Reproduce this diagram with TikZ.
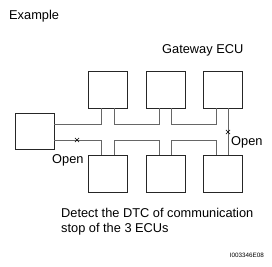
\documentclass[tikz,border=0pt]{standalone}
\usepackage{fontspec}
\setmainfont{Liberation Sans}
\usetikzlibrary{shapes.misc}
\begin{document}
\begin{tikzpicture}[x=1pt,y=-1pt,
  ecu/.style={draw=black!85,line width=0.7pt,rectangle,inner sep=0pt,minimum width=39pt,minimum height=37pt},
  bus/.style={draw=black!60,line width=0.75pt},
  brk/.style={cross out,draw=black,line width=0.6pt,minimum size=3.6pt,inner sep=0pt},
  lbl/.style={anchor=base west,inner sep=0pt,font=\fontsize{12.8}{15}\selectfont}]
\useasboundingbox (0,0) rectangle (272,266);
% boxes
\node[ecu] (tl1) at (107.5,89.5) {};
\node[ecu] (tl2) at (166,89.5) {};
\node[ecu] (tl3) at (223,89.5) {};
\node[ecu] (b1) at (107.5,173.5) {};
\node[ecu] (b2) at (166,173.5) {};
\node[ecu] (b3) at (223,173.5) {};
\node[ecu,minimum height=36pt] (L) at (34.5,131) {};
% upper bus
\draw[bus] (L.east |- 0,124) -| (101,0 |- tl1.south);
\draw[bus] (114,0 |- tl1.south) |- (159,124) -- (159,0 |- tl2.south);
\draw[bus] (171,0 |- tl2.south) |- (216,124) -- (216,0 |- tl3.south);
% lower bus
\draw[bus] (L.east |- 0,140) -| (101,0 |- b1.north);
\draw[bus] (114,0 |- b1.north) |- (159,140) -- (159,0 |- b2.north);
\draw[bus] (171,0 |- b2.north) |- (216,140) -- (216,0 |- b3.north);
% vertical link
\draw[bus] (228,0 |- tl3.south) -- (228,0 |- b3.north);
% break marks
\node[brk] (x1) at (77,140) {};
\node[brk] (x2) at (228,132) {};
% texts
\node[lbl] (ex) at (9,19.5) {Example};
\node[lbl] (gw) at (162,53.5) {Gateway ECU};
\node[lbl] (op1) at (52,163) {Open};
\node[lbl] (op2) at (231,145.5) {Open};
\node[lbl] (d1) at (61,217.5) {Detect the DTC of communication};
\node[lbl] (d2) at (61,232.5) {stop of the 3 ECUs};
\node[anchor=base east,inner sep=0pt,font=\fontsize{6.3}{7}\selectfont] (code) at (264,257.5) {I003346E08};
\end{tikzpicture}
\end{document}
